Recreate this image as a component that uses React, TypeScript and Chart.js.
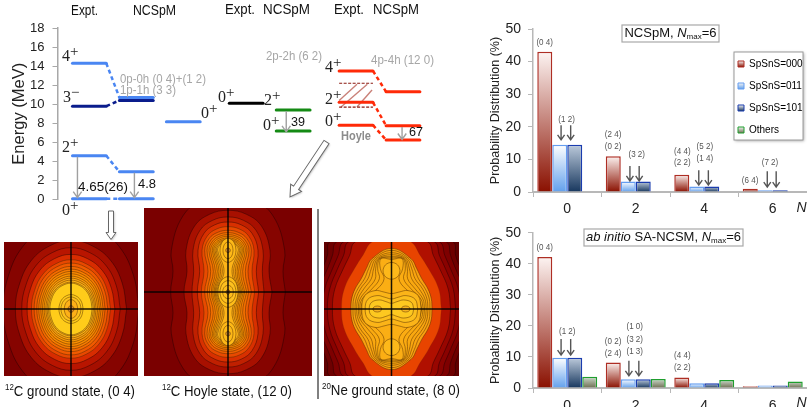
import { useEffect, useRef } from 'react';
import { Chart, registerables } from 'chart.js';
Chart.register(...registerables);

const SANS = '"Liberation Sans", Arial, sans-serif';
const SERIF = '"Liberation Serif", "Times New Roman", serif';
Chart.defaults.font.family = SANS;

/* ---------- energy level scheme ---------- */
const energyTicks = [0, 2, 4, 6, 8, 10, 12, 14, 16, 18];
const columnStart = [0, 1, 2, 3.34, 4.34, 5.68, 6.68];
const columnWidth = 0.72;
const exptGround = [14.3, 9.8, 4.6, 0.08];
const ncspmGround = [10.7, 10.4, 2.9, 0.08];
const secondZero = [8.16];
const exptPair = [10.1];
const ncspmPair = [9.4, 7.2];
const exptHoyle = [13.5, 10.2, 7.8];
const ncspmHoyle = [11.3, 7.75, 6.25];
const hatchBounds = [12.2, 9.7];
const hatchLines = [
  [5.68, 10.4, 6.06, 12.1],
  [5.72, 9.7, 6.28, 12.1],
  [6.06, 9.7, 6.38, 11.5],
];
const gammaArrows = [
  [0.106, 4.5, 0.2],
  [1.319, 2.8, 0.2],
  [4.553, 9.3, 7.1],
  [7.02, 7.6, 6.3],
];

/* ---------- probability distributions ---------- */
const categories = ['0', '2', '4', '6'];
const seriesNames = ['SpSnS=000', 'SpSnS=011', 'SpSnS=101', 'Others'];
const upper000 = [43, 11, 5.3, 1];
const upper011 = [14.5, 3.2, 1.7, 0.5];
const upper101 = [14.5, 3.2, 1.7, 0.5];
const upperOthers = [null, null, null, null];
const lower000 = [42.2, 8.2, 3.4, 0.6];
const lower011 = [9.7, 2.8, 1.5, 0.8];
const lower101 = [9.7, 2.8, 1.5, 0.8];
const lowerOthers = [3.6, 2.9, 2.6, 2.1];

const upperLabels: [string, number, number][] = [
  ['(0 4)', -0.33, 45.8], ['(1 2)', -0.01, 22.4], ['(2 4)', 0.669, 17.6], ['(0 2)', 0.669, 13.9],
  ['(3 2)', 1.014, 11.4], ['(4 4)', 1.68, 12.4], ['(2 2)', 1.68, 9.0], ['(5 2)', 2.008, 13.9],
  ['(1 4)', 2.008, 10.2], ['(6 4)', 2.669, 3.5], ['(7 2)', 2.96, 9.0],
];
const upperArrows = [
  [-0.09, 20.5, 16], [0.05, 20.5, 16], [0.915, 8, 3.4], [1.05, 8, 3.4],
  [1.92, 6.7, 2.1], [2.06, 6.7, 2.1], [2.92, 6.4, 1.5], [3.05, 6.4, 1.5],
];
const lowerLabels: [string, number, number][] = [
  ['(0 4)', -0.33, 45.2], ['(1 2)', 0, 18.1], ['(0 2)', 0.669, 15.1], ['(2 4)', 0.669, 11.3],
  ['(1 0)', 0.985, 19.7], ['(3 2)', 0.985, 15.7], ['(1 3)', 0.985, 11.7], ['(4 4)', 1.68, 10.6], ['(2 2)', 1.68, 6.8],
];
const lowerArrows = [
  [-0.09, 15.8, 10.6], [0.05, 15.8, 10.6], [0.9, 8.8, 3.9], [1.045, 8.8, 3.9],
];

/* ---------- density contours (outer to inner) ---------- */
const ovalQuarter = [[1, 0], [0.92, 0.38], [0.71, 0.71], [0.38, 0.92], [0, 1]];
const groundHalfWidth = [203, 166, 147, 131, 118, 110, 102, 96, 90, 85, 80, 75, 71, 67, 63, 36, 30, 20, 9];
const groundHalfHeight = [262, 205, 183, 163, 147, 137, 127, 119, 112, 105, 98, 92, 86, 80, 77, 43, 36, 28, 10];
const groundColors = ['#860400', '#a50f00', '#b81500', '#d82c00', '#e84800', '#f05a00', '#f46a00', '#f77c00', '#f88800', '#fa9000', '#fb9a08', '#fca510', '#fcb014', '#fdbc18', '#ffcc1a', '#ffcc1a', '#fdc01c', '#fdb018', '#d88a28'];

const hoyleAtCentre = [172, 132, 108, 92, 80, 70, 62, 56, 50, 46, 42, 39, 36, 33];
const hoyleAtWaist = [165, 123, 103, 85, 72, 60, 52, 44, 38, 32, 27, 22, 17, 12];
const hoyleAtLobe = [170, 126, 105, 90, 78, 70, 63, 57, 52, 47, 43, 39, 35, 31];
const hoyleTop = [295, 245, 225, 210, 196, 185, 178, 172, 167, 162, 158, 155, 152, 150];
const hoyleColors = ['#860400', '#a81000', '#c02000', '#d83000', '#e84a00', '#f06000', '#f47000', '#f67c00', '#f88800', '#fa9400', '#fb9c08', '#fca510', '#fdae14', '#fdb418'];
const hoyleCentreRx = [30, 24, 16, 6];
const hoyleCentreRy = [46, 34, 20, 7];
const hoyleCentreColors = ['#fdbc18', '#fdc020', '#fdbc1c', '#d8902c'];
const hoyleLobeRx = [24, 15, 7];
const hoyleLobeRy = [36, 25, 7];
const hoyleLobeColors = ['#fdb818', '#fdb818', '#d8902c'];

const neOuterHeights = [0, 60, 120, 160, 200];
const neOuterWidths = [
  [240, 232, 205, 190, 183],
  [222, 215, 190, 175, 163],
  [205, 198, 175, 158, 143],
  [190, 183, 160, 142, 128],
  [175, 168, 143, 124, 108],
  [148, 140, 110, 85, 58],
];
const neOuterTop = [300, 265, 255, 245, 235, 216];
const neOuterColors = ['#6e0000', '#7e0000', '#8a0200', '#980600', '#b01000', '#e84400'];
const neInnerHeights = [0, 30, 60, 90, 120, 150];
const neInnerWidths = [
  [120, 118, 108, 90, 75, 58],
  [114, 112, 100, 80, 68, 52],
  [108, 105, 92, 70, 60, 46],
  [103, 99, 82, 60, 53, 41],
  [98, 93, 70, 48, 47, 37],
  [94, 87, 58, 36, 41, 34],
  [90, 80, 42, 22, 33, 31],
];
const neInnerTop = [181, 175, 168, 162, 156, 152, 148];
const neInnerColors = ['#f8a010', '#f9a410', '#f9a610', '#f9a810', '#faaa10', '#fbac12', '#fbae14'];
const neBarRx = [88, 78, 66];
const neBarRy = [55, 40, 27];
const neBarPinch = [46, 30, 17];
const neBarColors = ['#fbb418', '#fcbe1c', '#fdc820'];

/* ---------- text helper ---------- */
type Run = { t: string; size?: number; italic?: boolean; bold?: boolean; dy?: number; family?: string };
function drawRuns(ctx: any, runs: Run[], x: number, y: number, color: string, o: { size?: number; family?: string; fit?: number; align?: string } = {}) {
  const fontOf = (r: Run) => `${r.italic ? 'italic ' : ''}${r.bold ? 'bold ' : ''}${r.size ?? o.size ?? 13}px ${r.family ?? o.family ?? SANS}`;
  ctx.save();
  ctx.fillStyle = color;
  ctx.textBaseline = 'middle';
  ctx.textAlign = 'left';
  let total = 0;
  for (const r of runs) { ctx.font = fontOf(r); total += ctx.measureText(r.t).width; }
  const sx = o.fit ? o.fit / total : 1;
  const startX = o.align === 'center' ? x - (total * sx) / 2 : x;
  ctx.translate(startX, y);
  ctx.scale(sx, 1);
  let cx = 0;
  for (const r of runs) {
    ctx.font = fontOf(r);
    ctx.fillText(r.t, cx, r.dy ?? 0);
    cx += ctx.measureText(r.t).width;
  }
  ctx.restore();
}

function lineArrow(ctx: any, x: number, y0: number, y1: number, color: string, width: number, head: number) {
  ctx.save();
  ctx.strokeStyle = color;
  ctx.lineWidth = width;
  ctx.beginPath();
  ctx.moveTo(x, y0);
  ctx.lineTo(x, y1);
  ctx.moveTo(x - head * 0.7, y1 - head);
  ctx.lineTo(x, y1);
  ctx.lineTo(x + head * 0.7, y1 - head);
  ctx.stroke();
  ctx.restore();
}

function hollowArrow(ctx: any, x0: number, y0: number, x1: number, y1: number, shaft: number, headW: number, headL: number) {
  const dx = x1 - x0, dy = y1 - y0;
  const len = Math.hypot(dx, dy);
  ctx.save();
  ctx.translate(x0, y0);
  ctx.rotate(Math.atan2(dy, dx));
  ctx.shadowColor = 'rgba(0,0,0,0.25)';
  ctx.shadowBlur = 2;
  ctx.shadowOffsetX = 1;
  ctx.shadowOffsetY = 1;
  ctx.beginPath();
  ctx.moveTo(0, -shaft / 2);
  ctx.lineTo(len - headL, -shaft / 2);
  ctx.lineTo(len - headL, -headW / 2);
  ctx.lineTo(len, 0);
  ctx.lineTo(len - headL, headW / 2);
  ctx.lineTo(len - headL, shaft / 2);
  ctx.lineTo(0, shaft / 2);
  ctx.closePath();
  ctx.fillStyle = '#fff';
  ctx.fill();
  ctx.shadowColor = 'transparent';
  ctx.strokeStyle = '#666';
  ctx.lineWidth = 1;
  ctx.stroke();
  ctx.restore();
}

/* ---------- energy chart ---------- */
const BLUE = '#4a86f2';
const NAVY = '#0a1c8c';
const GREEN = '#148a14';
const RED = '#ff2a08';

function levelSet(col: number, values: number[], colors: string[]) {
  return values.map((e, i) => ({
    data: [{ x: columnStart[col], y: e }, { x: columnStart[col] + columnWidth, y: e }],
    showLine: true, borderColor: colors[i], borderWidth: 3, pointRadius: 0, borderCapStyle: 'round', clip: false,
  }));
}
function linkSet(col: number, from: number[], to: number[], colors: string[]) {
  return from.map((e, i) => ({
    data: [{ x: columnStart[col] + columnWidth, y: e }, { x: columnStart[col + 1], y: to[i] }],
    showLine: true, borderColor: colors[i], borderWidth: 2.5, borderDash: [4, 3], pointRadius: 0, clip: false,
  }));
}

const energyHeads: [string, number, number, number][] = [
  ['Expt.', 71, 11, 27], ['NCSpM', 133, 11, 43], ['Expt.', 225, 10, 30],
  ['NCSpM', 263, 10, 47], ['Expt.', 334, 10, 30], ['NCSpM', 373, 10, 46],
];
const spinTexts: [string, string, number, number][] = [
  ['4', '+', 62, 57], ['3', '\u2212', 63, 98], ['2', '+', 62, 148], ['0', '+', 62, 211],
  ['0', '+', 201, 114], ['0', '+', 218, 98], ['2', '+', 264, 101], ['0', '+', 263, 126],
  ['4', '+', 325, 68], ['2', '+', 325, 100], ['0', '+', 325, 122],
];
const grayTexts: [string, number, number, number][] = [
  ['0p-0h (0 4)+(1 2)', 120, 79, 86], ['1p-1h (3 3)', 120, 90, 56],
  ['2p-2h (6 2)', 266, 56, 56], ['4p-4h (12 0)', 371, 60, 63],
];
const darkTexts: [string, number, number, number][] = [
  ['4.65(26)', 78, 187, 50], ['4.8', 138, 184, 18], ['39', 291, 122, 14], ['67', 409, 132, 14],
];

const energyOverlay = {
  id: 'energyOverlay',
  afterDatasetsDraw(chart: any) {
    const { ctx, scales: { x, y } } = chart;
    for (const [gx, from, to] of gammaArrows) {
      lineArrow(ctx, x.getPixelForValue(gx), y.getPixelForValue(from), y.getPixelForValue(to), '#a0a0a0', 1.4, 6);
    }
    for (const [t, px, py, w] of energyHeads) drawRuns(ctx, [{ t }], px, py, '#111', { size: 14, fit: w });
    for (const [d, s, px, py] of spinTexts) {
      drawRuns(ctx, [{ t: d }, { t: s, dy: -5, size: 15 }], px, py, '#222', { size: 16, family: SERIF });
    }
    for (const [t, px, py, w] of grayTexts) drawRuns(ctx, [{ t }], px, py, '#a6a6a6', { size: 13, fit: w });
    drawRuns(ctx, [{ t: 'Hoyle', bold: true }], 341, 136, '#8c8c8c', { size: 13, fit: 30 });
    for (const [t, px, py, w] of darkTexts) drawRuns(ctx, [{ t }], px, py, '#111', { size: 13, fit: w });
    hollowArrow(ctx, 326.5, 142, 290, 197, 6, 13, 11);
    hollowArrow(ctx, 111, 211, 111, 239.5, 5, 10, 7);
    ctx.fillStyle = '#808080';
    ctx.fillRect(317, 209, 2, 190);
    drawRuns(ctx, [{ t: '12', size: 9, dy: -4 }, { t: 'C ground state, (0 4)' }], 5, 392, '#111', { size: 15, fit: 130 });
    drawRuns(ctx, [{ t: '12', size: 9, dy: -4 }, { t: 'C Hoyle state, (12 0)' }], 162, 392, '#111', { size: 15, fit: 130 });
    drawRuns(ctx, [{ t: '20', size: 9, dy: -4 }, { t: 'Ne ground state, (8 0)' }], 322, 391, '#111', { size: 15, fit: 138 });
  },
};

function energyConfig() {
  const blue4 = [BLUE, NAVY, BLUE, BLUE];
  const reds = [RED, RED, RED];
  const datasets: any[] = [
    ...levelSet(0, exptGround, blue4),
    ...levelSet(1, ncspmGround, blue4),
    ...levelSet(2, secondZero, [BLUE]),
    ...levelSet(3, exptPair, ['#000']),
    ...levelSet(4, ncspmPair, [GREEN, GREEN]),
    ...levelSet(5, exptHoyle, reds),
    ...levelSet(6, ncspmHoyle, reds),
    ...linkSet(0, exptGround, ncspmGround, blue4),
    ...linkSet(5, exptHoyle, ncspmHoyle, reds),
    ...hatchBounds.map((e) => ({
      data: [{ x: columnStart[5], y: e }, { x: columnStart[5] + columnWidth, y: e }],
      showLine: true, borderColor: '#8a1a10', borderWidth: 1.2, borderDash: [3, 1.5], pointRadius: 0,
    })),
    ...hatchLines.map(([a, b, c, d]) => ({
      data: [{ x: a, y: b }, { x: c, y: d }],
      showLine: true, borderColor: '#c98078', borderWidth: 1.4, pointRadius: 0,
    })),
  ];
  return {
    type: 'scatter',
    data: { datasets },
    plugins: [energyOverlay],
    options: {
      responsive: false, animation: false, devicePixelRatio: 1, events: [],
      layout: { padding: { top: 28, bottom: 207.5, left: 0, right: 0 } },
      plugins: { legend: { display: false }, tooltip: { enabled: false } },
      scales: {
        x: { type: 'linear', display: false, min: -0.319, max: 8.68 },
        y: {
          min: 0, max: 18,
          afterBuildTicks: (s: any) => { s.ticks = energyTicks.map((value) => ({ value })); },
          afterFit: (s: any) => { s.width = 57.5; },
          border: { color: '#a8a8a8', width: 1.5 },
          grid: { drawOnChartArea: false, color: '#a8a8a8', tickLength: 5, lineWidth: 1 },
          ticks: { font: { size: 13 }, color: '#222', padding: 8 },
          title: { display: true, text: 'Energy (MeV)', font: { size: 16.5 }, color: '#222', padding: { top: 10, bottom: 0 } },
        },
      },
    },
  };
}

/* ---------- bar charts ---------- */
const barTops = ['#fdf4f2', '#ffffff', '#bccadb', '#ccd9cc'];
const barBottoms = ['#8a1000', '#62a0ec', '#17375e', '#6e6e52'];
const barEdges = ['#ae2e24', '#649df0', '#1a3cae', '#1f9e2e'];

function gradientFill(i: number) {
  return (c: any) => {
    const { chart, parsed } = c;
    if (!chart.chartArea || !parsed || parsed.y == null) return barBottoms[i];
    const y = chart.scales.y;
    const g = chart.ctx.createLinearGradient(0, y.getPixelForValue(parsed.y), 0, y.getPixelForValue(0));
    g.addColorStop(0, barTops[i]);
    g.addColorStop(1, barBottoms[i]);
    return g;
  };
}

function barAnnotations(labels: [string, number, number][], arrows: number[][], title: Run[], box: number[], nY: number, withLegend: boolean) {
  return {
    id: 'barAnnotations',
    beforeDraw(chart: any) {
      if (!withLegend) return;
      const l = chart.legend;
      l.left = 246; l.right = l.left + 90; l.top = 47; l.bottom = l.top + 110;
      const { ctx } = chart;
      ctx.save();
      ctx.shadowColor = 'rgba(0,0,0,0.35)';
      ctx.shadowBlur = 3;
      ctx.shadowOffsetX = 1;
      ctx.shadowOffsetY = 1;
      ctx.fillStyle = '#fff';
      ctx.fillRect(254, 52, 69, 88);
      ctx.shadowColor = 'transparent';
      ctx.strokeStyle = '#9a9a9a';
      ctx.lineWidth = 1;
      ctx.strokeRect(254, 52, 69, 88);
      ctx.restore();
    },
    afterDatasetsDraw(chart: any) {
      const { ctx, scales: { x, y } } = chart;
      for (const [t, c, v] of labels) {
        drawRuns(ctx, [{ t }], x.getPixelForValue(c), y.getPixelForValue(v), '#555', { size: 9.5, align: 'center', fit: 16.5 });
      }
      for (const [c, from, to] of arrows) {
        lineArrow(ctx, x.getPixelForValue(c), y.getPixelForValue(from), y.getPixelForValue(to), '#555', 1.4, 5);
      }
      ctx.save();
      ctx.fillStyle = '#fff';
      ctx.strokeStyle = '#a8a8a8';
      ctx.lineWidth = 1.2;
      ctx.fillRect(box[0], box[1], box[2], box[3]);
      ctx.strokeRect(box[0], box[1], box[2], box[3]);
      ctx.restore();
      drawRuns(ctx, title, box[0] + box[2] / 2, box[1] + box[3] / 2, '#111', { size: 13, align: 'center' });
      drawRuns(ctx, [{ t: 'N', italic: true }], 316.5, nY, '#222', { size: 14 });
    },
  };
}

function barConfig(series: any[][], labels: any, arrows: any, title: Run[], box: number[], padTop: number, xHeight: number, nY: number, tickPad: number, withLegend: boolean) {
  return {
    type: 'bar',
    data: {
      labels: categories,
      datasets: series.map((data, i) => ({
        label: seriesNames[i], data,
        backgroundColor: gradientFill(i),
        borderColor: barEdges[i], borderWidth: 1.5,
        barPercentage: 1, categoryPercentage: 0.875,
      })),
    },
    plugins: [barAnnotations(labels, arrows, title, box, nY, withLegend)],
    options: {
      responsive: false, animation: false, devicePixelRatio: 1, events: [],
      layout: { padding: { top: padTop, bottom: 0, left: 0, right: 0 } },
      plugins: {
        tooltip: { enabled: false },
        legend: withLegend ? {
          display: true, position: 'chartArea', align: 'start',
          labels: {
            boxWidth: 6, boxHeight: 6, padding: 12, color: '#333', font: { size: 10 },
            generateLabels: (chart: any) => seriesNames.map((text, i) => {
              const g = chart.ctx.createLinearGradient(0, 61 + 22 * i, 0, 67 + 22 * i);
              g.addColorStop(0, '#f4f4f4');
              g.addColorStop(1, barBottoms[i]);
              return { text, fillStyle: g, strokeStyle: barEdges[i], lineWidth: 1, datasetIndex: i, hidden: false };
            }),
          },
        } : { display: false },
      },
      scales: {
        x: {
          afterFit: (s: any) => { s.height = xHeight; },
          border: { color: '#b8b8b8', width: 2 },
          grid: { drawOnChartArea: false, color: '#b8b8b8', tickLength: 5 },
          ticks: { font: { size: 14 }, color: '#222', padding: tickPad, autoSkip: false, maxRotation: 0 },
        },
        y: {
          min: 0, max: 50,
          afterFit: (s: any) => { s.width = 53; },
          border: { color: '#b8b8b8', width: 1.5 },
          grid: { drawOnChartArea: false, color: '#b8b8b8', tickLength: 5 },
          ticks: { stepSize: 10, font: { size: 14 }, color: '#222', padding: 7 },
          title: { display: true, text: 'Probability Distribution (%)', font: { size: 12.5 }, color: '#222', padding: { top: 8, bottom: 0 } },
        },
      },
    },
  };
}

const upperTitle: Run[] = [{ t: 'NCSpM, ' }, { t: 'N', italic: true }, { t: 'max', size: 8, dy: 3 }, { t: '=6' }];
const lowerTitle: Run[] = [{ t: 'ab initio', italic: true }, { t: ' SA-NCSM, ' }, { t: 'N', italic: true }, { t: 'max', size: 8, dy: 3 }, { t: '=6' }];

/* ---------- contour charts ---------- */
function mirrorLoop(q: number[][]) {
  const topLeft = q.slice(0, -1).reverse().map(([x, y]) => [-x, y]);
  const bottomLeft = q.slice(1).map(([x, y]) => [-x, -y]);
  const bottomRight = q.slice(0, -1).reverse().map(([x, y]) => [x, -y]);
  return [...q, ...topLeft, ...bottomLeft, ...bottomRight];
}
function oval(rx: number, ry: number, cx = 0, cy = 0) {
  return mirrorLoop(ovalQuarter.map(([a, b]) => [a * rx, b * ry])).map(([x, y]) => [x + cx, y + cy]);
}

type Ring = { pts: number[][]; color: string; line?: string };
const LINE = 'rgba(80,40,0,0.6)';
const DARK = 'rgba(20,0,0,0.5)';

function groundRings(): Ring[] {
  return groundHalfWidth.map((w, i) => ({ pts: oval(w, groundHalfHeight[i]), color: groundColors[i], line: i < 4 ? DARK : LINE }));
}
function hoyleRings(): Ring[] {
  const rings: Ring[] = hoyleAtCentre.map((w0, i) => {
    const w2 = hoyleAtLobe[i];
    const h = hoyleTop[i] - 125;
    return {
      pts: mirrorLoop([[w0, 0], [hoyleAtWaist[i], 62], [w2, 125], [0.8 * w2, 125 + 0.6 * h], [0.44 * w2, 125 + 0.9 * h], [0, hoyleTop[i]]]),
      color: hoyleColors[i], line: i < 4 ? DARK : LINE,
    };
  });
  hoyleLobeRx.forEach((rx, i) => {
    rings.push({ pts: oval(rx, hoyleLobeRy[i], 0, 125), color: hoyleLobeColors[i], line: LINE });
    rings.push({ pts: oval(rx, hoyleLobeRy[i], 0, -125), color: hoyleLobeColors[i], line: LINE });
  });
  hoyleCentreRx.forEach((rx, i) => rings.push({ pts: oval(rx, hoyleCentreRy[i]), color: hoyleCentreColors[i], line: LINE }));
  return rings;
}
function neRings(): Ring[] {
  const rings: Ring[] = neOuterWidths.map((ws, i) => ({
    pts: mirrorLoop([...ws.map((w, j) => [w, neOuterHeights[j]]), [0, neOuterTop[i]]]),
    color: neOuterColors[i], line: i < 5 ? DARK : 'rgba(120,40,0,0.3)',
  }));
  neInnerWidths.forEach((ws, i) => {
    rings.push({
      pts: mirrorLoop([...ws.map((w, j) => [w, neInnerHeights[j]]), [0, neInnerTop[i]]]),
      color: neInnerColors[i], line: LINE,
    });
  });
  rings.push({ pts: oval(25, 25, 0, 114), color: '#fdb81a', line: LINE });
  rings.push({ pts: oval(25, 25, 0, -114), color: '#fdb81a', line: LINE });
  neBarRx.forEach((rx, i) => {
    const ry = neBarRy[i];
    rings.push({
      pts: mirrorLoop([[rx, 0], [rx * 0.9, ry * 0.72], [rx * 0.55, ry], [rx * 0.25, (ry + neBarPinch[i]) / 2], [0, neBarPinch[i]]]),
      color: neBarColors[i], line: LINE,
    });
  });
  rings.push({ pts: oval(13, 9, 42, 0), color: '#f8b420', line: LINE });
  rings.push({ pts: oval(13, 9, -42, 0), color: '#f8b420', line: LINE });
  return rings;
}

function contourConfig(rings: Ring[], half: number, bg: string) {
  const cross = [
    [[-half, 0], [half, 0]],
    [[0, -half], [0, half]],
  ].map((pts) => ({
    data: pts.map(([x, y]) => ({ x, y })),
    showLine: true, borderColor: 'rgba(0,0,0,0.9)', borderWidth: 1.5, pointRadius: 0,
  }));
  const fills = rings.map((r) => ({
    data: r.pts.map(([x, y]) => ({ x, y })),
    showLine: true, fill: 'shape', tension: 0.4, capBezierPoints: false,
    backgroundColor: r.color, borderColor: r.line ?? LINE, borderWidth: 0.8, pointRadius: 0,
  })).reverse();
  return {
    type: 'scatter',
    data: { datasets: [...cross, ...fills] },
    plugins: [{
      id: 'mapBackground',
      beforeDraw(chart: any) {
        const { ctx, chartArea: a } = chart;
        ctx.fillStyle = bg;
        ctx.fillRect(a.left, a.top, a.width, a.height);
      },
    }],
    options: {
      responsive: false, animation: false, devicePixelRatio: 1, events: [],
      layout: { padding: 0 },
      plugins: { legend: { display: false }, tooltip: { enabled: false } },
      scales: {
        x: { type: 'linear', display: false, min: -half, max: half },
        y: { type: 'linear', display: false, min: -half, max: half },
      },
    },
  };
}

function Panel({ left, top, width, height, z, make }: any) {
  const ref = useRef<HTMLCanvasElement>(null);
  useEffect(() => {
    const chart = new Chart(ref.current as any, make());
    return () => chart.destroy();
  }, []);
  return <canvas ref={ref} width={width} height={height} style={{ position: 'absolute', left, top, width, height, zIndex: z }} />;
}

export default function App() {
  return (
    <div style={{ position: 'absolute', left: 0, top: 0, width: 807, height: 407, overflow: 'hidden', background: '#fff' }}>
      <Panel left={4} top={242} width={134} height={134} z={1} make={() => contourConfig(groundRings(), 200, '#7a0000')} />
      <Panel left={144} top={208} width={168} height={168} z={1} make={() => contourConfig(hoyleRings(), 252, '#7a0000')} />
      <Panel left={324} top={242} width={135} height={134} z={1} make={() => contourConfig(neRings(), 200, '#600000')} />
      <Panel left={0} top={0} width={480} height={407} z={2} make={energyConfig} />
      <Panel left={480} top={0} width={327} height={215} z={3}
        make={() => barConfig([upper000, upper011, upper101, upperOthers], upperLabels, upperArrows, upperTitle, [142, 25, 97, 17], 29, 23, 208, 4, true)} />
      <Panel left={480} top={215} width={327} height={192} z={3}
        make={() => barConfig([lower000, lower011, lower101, lowerOthers], lowerLabels, lowerArrows, lowerTitle, [104, 14, 159, 17], 17.7, 19, 188, 5, false)} />
    </div>
  );
}
